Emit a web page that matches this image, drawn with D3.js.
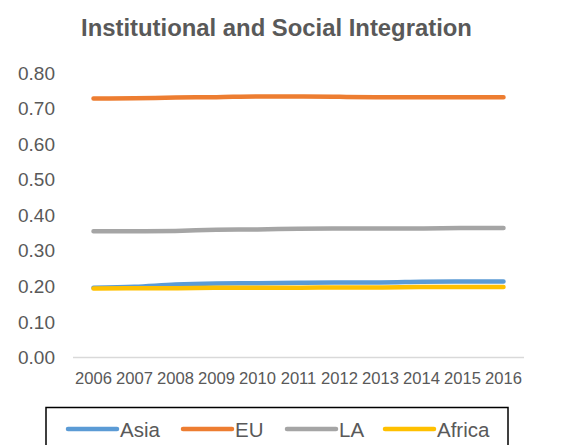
<!DOCTYPE html>
<html><head><meta charset="utf-8">
<script src="https://cdn.jsdelivr.net/npm/d3@7"></script>
<style>body{margin:0;background:#fff}svg{display:block;font-family:"Liberation Sans",Arial,sans-serif}</style>
</head><body><svg id="c" width="580" height="445"></svg>
<script>
const years = ["2006","2007","2008","2009","2010","2011","2012","2013","2014","2015","2016"];
const asia   = [0.196,0.199,0.205,0.208,0.209,0.210,0.211,0.211,0.213,0.214,0.214];
const eu     = [0.728,0.729,0.731,0.732,0.734,0.734,0.733,0.732,0.732,0.732,0.732];
const la     = [0.355,0.355,0.356,0.359,0.360,0.362,0.363,0.363,0.363,0.364,0.364];
const africa = [0.194,0.195,0.195,0.196,0.196,0.196,0.197,0.197,0.198,0.198,0.198];
const yTicks = [0,0.1,0.2,0.3,0.4,0.5,0.6,0.7,0.8];
const seriesNames = ["Asia","EU","LA","Africa"];
const seriesColors = ["#5b9bd5","#ed7d31","#a5a5a5","#ffc000"];
const seriesData = [asia, eu, la, africa];

const svg = d3.select("#c");
const x = d3.scaleBand().domain(years).range([73,524]);
const y = d3.scaleLinear().domain([0,0.8]).range([357.5,73]);

// title
const title = svg.append("text").attr("x",276.5).attr("y",36).attr("text-anchor","middle")
  .attr("font-weight","bold").attr("fill","#595959").attr("font-size",21)
  .text("Institutional and Social Integration");
const tw = title.node().getComputedTextLength();
title.attr("font-size", 21*391/tw);

// y axis labels
const yAxis = d3.axisLeft(y).tickValues(yTicks).tickFormat(d3.format(".2f")).tickSize(0).tickPadding(0);
const gy = svg.append("g").attr("transform","translate(55,0)").call(yAxis);
gy.select(".domain").remove();
gy.selectAll("text").attr("fill","#595959").attr("font-size",19).attr("font-family","Liberation Sans, Arial, sans-serif");

// x axis
const xAxis = d3.axisBottom(x).tickSize(0).tickPadding(15);
const gx = svg.append("g").attr("transform","translate(0,357.5)").call(xAxis);
gx.select(".domain").attr("stroke","#d9d9d9").attr("stroke-width",1.3).attr("d","M73,0H524");
gx.selectAll("text").attr("fill","#595959").attr("font-size",16.6).attr("font-family","Liberation Sans, Arial, sans-serif");

// lines
const line = d3.line().x((d,i)=>x(years[i])+x.bandwidth()/2).y(d=>y(d)).curve(d3.curveMonotoneX);
seriesData.forEach((s,k)=>{
  svg.append("path").datum(s).attr("d",line).attr("fill","none")
    .attr("stroke",seriesColors[k]).attr("stroke-width",4.5).attr("stroke-linecap","round").attr("stroke-linejoin","round");
});

// legend
svg.append("rect").attr("x",46).attr("y",407.5).attr("width",462).attr("height",45)
  .attr("fill","none").attr("stroke","#000").attr("stroke-width",1.5);
const legX = [68,183,287,385];
seriesNames.forEach((n,k)=>{
  svg.append("line").attr("x1",legX[k]).attr("x2",legX[k]+49).attr("y1",429).attr("y2",429)
    .attr("stroke",seriesColors[k]).attr("stroke-width",4.5).attr("stroke-linecap","round");
  svg.append("text").attr("x",legX[k]+52).attr("y",436.5).attr("fill","#595959").attr("font-size",20.5).text(n);
});
</script></body></html>
